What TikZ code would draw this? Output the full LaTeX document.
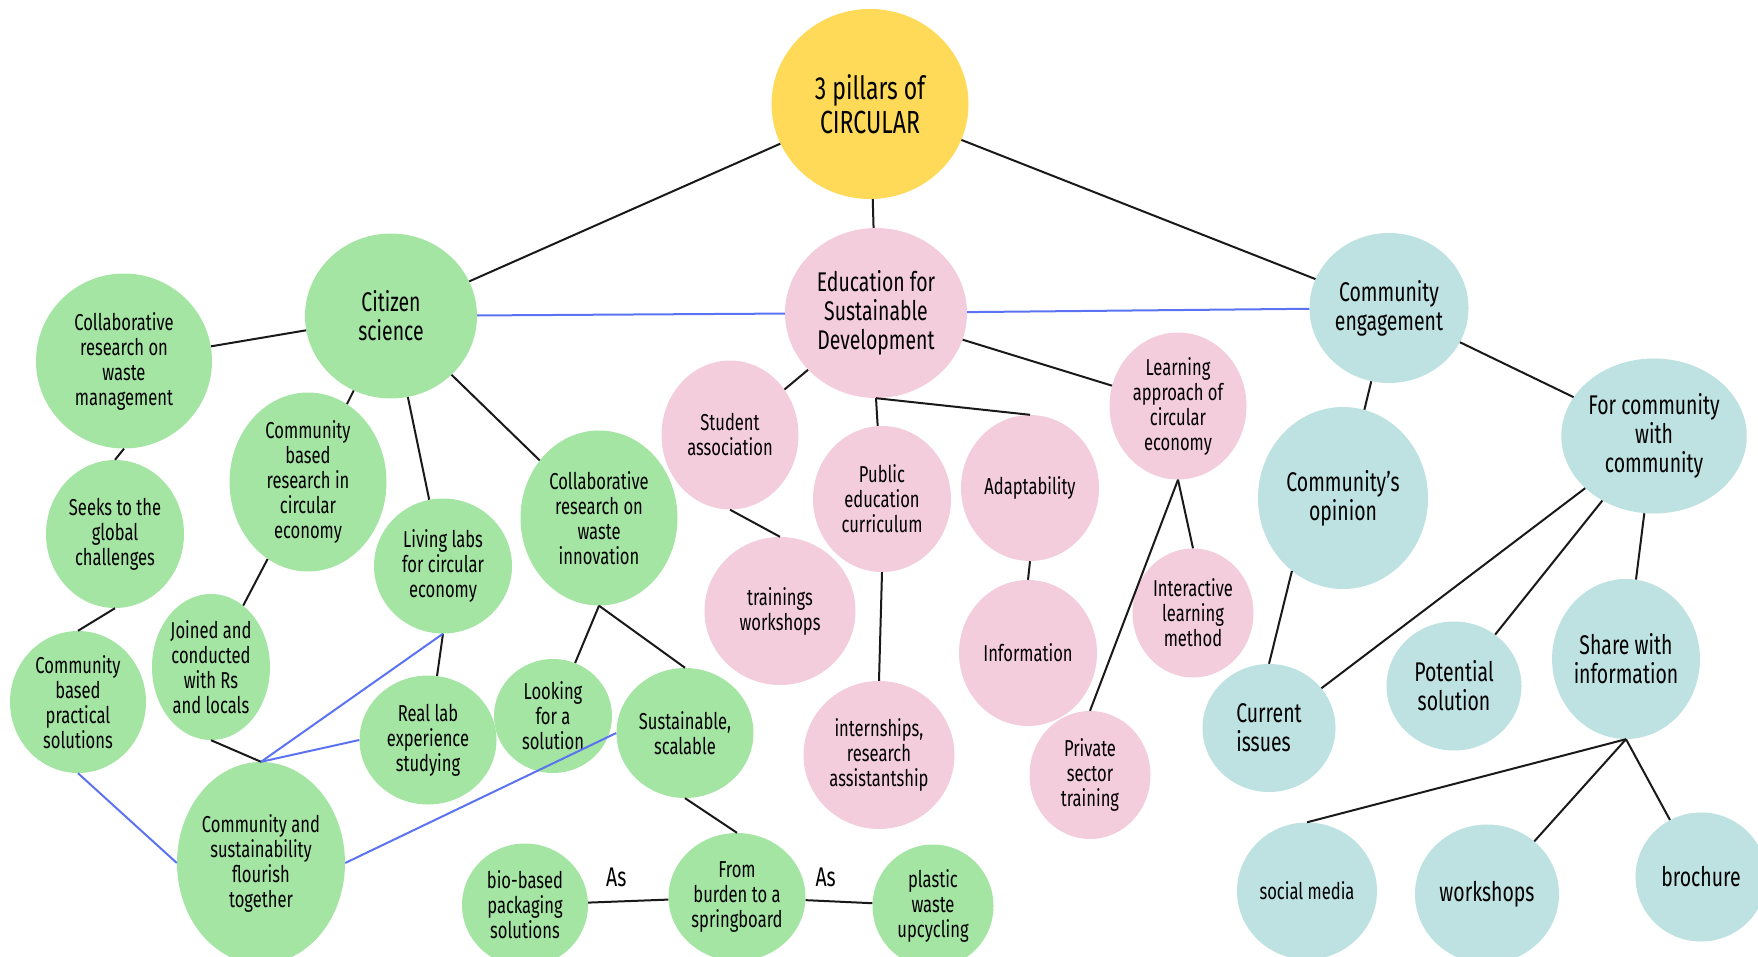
\documentclass[tikz,border=0pt]{standalone}
\usepackage{fontspec}
\setmainfont{Fira Sans}[FakeStretch=0.72]
\usetikzlibrary{shapes.geometric}
\definecolor{pillaryellow}{HTML}{FFDA59}
\definecolor{edupink}{HTML}{F4CDDD}
\definecolor{citgreen}{HTML}{A5E5A4}
\definecolor{engteal}{HTML}{BEE1E1}
\definecolor{crossblue}{HTML}{5B73F2}

\begin{document}
\begin{tikzpicture}[x=1pt,y=-1pt,
  bubble/.style={ellipse,inner sep=0pt,align=center,font=\fontsize{23}{25}\selectfont},
  bigtext/.style={font=\fontsize{27}{29}\selectfont},
  rootbub/.style={bubble,fill=pillaryellow,font=\fontsize{32}{34}\selectfont},
  citbub/.style={bubble,fill=citgreen},
  edubub/.style={bubble,fill=edupink},
  engbub/.style={bubble,fill=engteal},
  link/.style={line width=2pt,draw=black!90},
  cross/.style={line width=2pt,draw=crossblue},
  aslabel/.style={font=\fontsize{27}{29}\selectfont}]
\useasboundingbox (0,0) rectangle (1758,957);
%%%%%%%%%%%%%%%% the three pillars
\node[rootbub,minimum width=197,minimum height=190] (root) at (870,104) {3 pillars of\\CIRCULAR};
\node[citbub,bigtext,minimum width=172,minimum height=165] (cit) at (391,316) {Citizen\\science};
\node[edubub,bigtext,minimum width=182,minimum height=170] (edu) at (876,313) {Education for\\Sustainable\\Development};
\node[engbub,bigtext,minimum width=159,minimum height=150] (ceng) at (1389,308) {Community\\engagement};
%%%%%%%%%%%%%%%% citizen science
\node[citbub,minimum width=176,minimum height=175] (crwm) at (124,361) {Collaborative\\research on\\waste\\management};
\node[citbub,minimum width=157,minimum height=179] (cbrce) at (308,482) {Community\\based\\research in\\circular\\economy};
\node[citbub,minimum width=138,minimum height=148] (seeks) at (115,534) {Seeks to the\\global\\challenges};
\node[citbub,minimum width=138,minimum height=135] (living) at (443,566) {Living labs\\for circular\\economy};
\node[citbub,minimum width=157,minimum height=175] (crwi) at (599,518) {Collaborative\\research on\\waste\\innovation};
\node[citbub,minimum width=118,minimum height=146] (joined) at (211,667) {Joined and\\conducted\\with Rs\\and locals};
\node[citbub,minimum width=136,minimum height=142] (cbps) at (78,702) {Community\\based\\practical\\solutions};
\node[citbub,minimum width=137,minimum height=129] (reallab) at (428,740) {Real lab\\experience\\studying};
\node[citbub,minimum width=118,minimum height=114] (looking) at (553,716) {Looking\\for a\\solution};
\node[citbub,minimum width=137,minimum height=130] (sust) at (685,733) {Sustainable,\\scalable};
\node[citbub,minimum width=168,minimum height=202] (cstf) at (261,863) {Community and\\sustainability\\flourish\\together};
\node[citbub,minimum width=126,minimum height=123] (bio) at (525,905) {bio-based\\packaging\\solutions};
\node[citbub,minimum width=137,minimum height=128] (burden) at (737,897) {From\\burden to a\\springboard};
\node[citbub,minimum width=121,minimum height=123] (plastic) at (933,906) {plastic\\waste\\upcycling};
%%%%%%%%%%%%%%%% education
\node[edubub,minimum width=137,minimum height=149] (student) at (730,435) {Student\\association};
\node[edubub,minimum width=151,minimum height=148] (training) at (780,611) {trainings\\workshops};
\node[edubub,minimum width=138,minimum height=146] (public) at (882,499) {Public\\education\\curriculum};
\node[edubub,minimum width=151,minimum height=148] (intern) at (879,755) {internships,\\research\\assistantship};
\node[edubub,minimum width=138,minimum height=146] (adapt) at (1030,488) {Adaptability};
\node[edubub,minimum width=138,minimum height=146] (info) at (1028,653) {Information};
\node[edubub,minimum width=137,minimum height=147] (learn) at (1178,406) {Learning\\approach of\\circular\\economy};
\node[edubub,minimum width=121,minimum height=129] (interactive) at (1193,613) {Interactive\\learning\\method};
\node[edubub,minimum width=121,minimum height=128] (private) at (1090,775) {Private\\sector\\training};
%%%%%%%%%%%%%%%% community engagement
\node[engbub,bigtext,minimum width=170,minimum height=182] (opinion) at (1343,498) {Community’s\\opinion};
\node[engbub,bigtext,minimum width=181,minimum height=155] (forcom) at (1654,436) {For community\\with\\community};
\node[engbub,bigtext,align=left,minimum width=133,minimum height=128] (current) at (1269,728) {Current\\issues};
\node[engbub,bigtext,minimum width=135,minimum height=129] (potential) at (1454,686) {Potential\\solution};
\node[engbub,bigtext,minimum width=140,minimum height=160] (share) at (1626,659) {Share with\\information};
\node[engbub,minimum width=140,minimum height=137] (social) at (1307,891) {social media};
\node[engbub,bigtext,minimum width=144,minimum height=139] (workshops) at (1487,894) {workshops};
\node[engbub,bigtext,minimum width=131,minimum height=129] (brochure) at (1701,877) {brochure};
%%%%%%%%%%%%%%%% black links
\draw[link] (root) -- (cit);
\draw[link] (root) -- (edu);
\draw[link] (root) -- (ceng);
\draw[link] (cit) -- (crwm);
\draw[link] (cit) -- (cbrce);
\draw[link] (cit) -- (living);
\draw[link] (cit) -- (crwi);
\draw[link] (crwm.south) -- (seeks.north);
\draw[link] (seeks.south) -- (cbps.north);
\draw[link] (cbrce) -- (joined);
\draw[link] (joined.south) -- (cstf.north);
\draw[link] (living.south) -- (reallab);
\draw[link] (crwi.south) -- (looking);
\draw[link] (crwi.south) -- (sust.north);
\draw[link] (sust.south) -- (burden.north);
\draw[link] (bio) -- node[aslabel,pos=0.35,above=10pt] {As} (burden);
\draw[link] (burden) -- node[aslabel,pos=0.3,above=10pt] {As} (plastic);
%%%%%%%%%%%%%%%%
\draw[link] (edu) -- (student);
\draw[link] (student.south) -- (training.north);
\draw[link] (edu.south) -- (public);
\draw[link] (edu.south) -- (adapt.north);
\draw[link] (public.south) -- (intern.north);
\draw[link] (adapt.south) -- (info.north);
\draw[link] (edu) -- (learn);
\draw[link] (learn.south) -- (interactive.north);
\draw[link] (learn.south) -- (private.north);
%%%%%%%%%%%%%%%%
\draw[link] (ceng) -- (opinion);
\draw[link] (ceng) -- (forcom);
\draw[link] (opinion.235) -- (current.north);
\draw[link] (forcom) -- (current);
\draw[link] (forcom) -- (potential);
\draw[link] (forcom) -- (share);
\draw[link] (share.south) -- (social.north);
\draw[link] (share.south) -- (workshops);
\draw[link] (share.south) -- (brochure);
%%%%%%%%%%%%%%%% blue cross links
\draw[cross] (cit) -- (edu);
\draw[cross] (edu) -- (ceng);
\draw[cross] (living.south) -- (cstf.north);
\draw[cross] (reallab.west) -- (cstf.north);
\draw[cross] (cbps.south) -- (cstf.west);
\draw[cross] (sust.west) -- (cstf.east);
\end{tikzpicture}
\end{document}
